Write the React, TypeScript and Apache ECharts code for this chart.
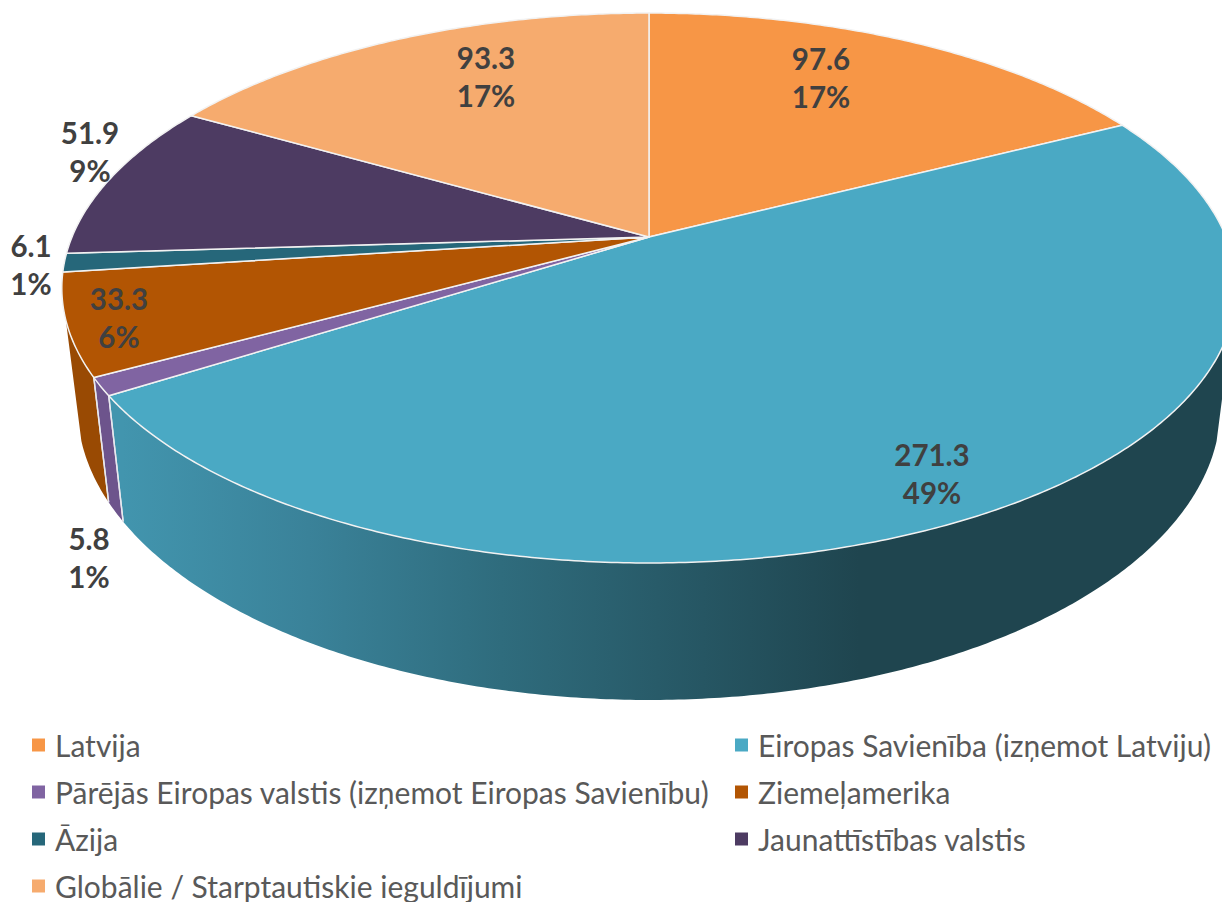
import React, { useEffect, useRef } from "react";
import * as echarts from "echarts";

const categories = [
  "Latvija",
  "Eiropas Savienība (izņemot Latviju)",
  "Pārējās Eiropas valstis (izņemot Eiropas Savienību)",
  "Ziemeļamerika",
  "Āzija",
  "Jaunattīstības valstis",
  "Globālie / Starptautiskie ieguldījumi",
];
const values = [97.6, 271.3, 5.8, 33.3, 6.1, 51.9, 93.3];
const valueLabels = ["97.6", "271.3", "5.8", "33.3", "6.1", "51.9", "93.3"];
const percentLabels = ["17%", "49%", "1%", "6%", "1%", "9%", "17%"];

const topColors = ["#F79646", "#4AA9C4", "#8064A2", "#B25503", "#26677A", "#4D3B62", "#F6AB6E"];
const wallColors = ["#9C5A20", "#1F454F", "#6D548C", "#994A03", "#1C4D5B", "#3A2C4A", "#A66E3E"];
const labelAnchors = [
  [821, 58],
  [932, 454],
  [89, 538],
  [119, 298],
  [31, 245],
  [90, 132],
  [486, 57],
];

// Perspective model of the pie: top and bottom discs
const P = 0.1855;
const CX = 649;
const TOP = { R: 577, K: 265.5, cy: 237 };
const BOT = { R: 561.6, K: 283, cy: 352.5 };
const WALL_FROM = 107.2;
const WALL_TO = 252.8;
const LINE_GAP = 38.5;

const total = values.reduce((a, b) => a + b, 0);
const starts: number[] = [];
values.reduce((acc, v, i) => {
  starts[i] = (acc / total) * 360;
  return acc + v;
}, 0);

function project(deg: number, d: { R: number; K: number; cy: number }) {
  const t = (deg * Math.PI) / 180;
  const u = Math.sin(t);
  const v = Math.cos(t);
  const w = 1 + P * v;
  return [CX + (d.R * u) / w, d.cy - (d.K * v) / w];
}

function arc(a: number, b: number, d: { R: number; K: number; cy: number }) {
  const n = Math.max(2, Math.ceil(Math.abs(b - a) * 2));
  const pts: number[][] = [];
  for (let i = 0; i <= n; i++) pts.push(project(a + ((b - a) * i) / n, d));
  return pts;
}

function wallFill(i: number) {
  if (i !== 1) return wallColors[i];
  return new echarts.graphic.LinearGradient(
    122,
    0,
    1222,
    0,
    [
      { offset: 0, color: "#4295AE" },
      { offset: 0.17, color: "#3A8299" },
      { offset: 0.345, color: "#2F6C7D" },
      { offset: 0.67, color: "#1F454F" },
      { offset: 1, color: "#1F454F" },
    ],
    true
  );
}

function makeRender(i: number) {
  return () => {
    const a = starts[i];
    const b = a + (values[i] / total) * 360;
    const children: any[] = [];
    const wa = Math.max(a, WALL_FROM);
    const wb = Math.min(b, WALL_TO);
    if (wb > wa) {
      children.push({
        type: "polygon",
        z2: 1,
        shape: { points: [...arc(wa, wb, TOP), ...arc(wb, wa, BOT)] },
        style: { fill: wallFill(i) },
      });
      if (a >= WALL_FROM) {
        children.push({
          type: "polyline",
          z2: 2,
          shape: { points: [project(a, TOP), project(a, BOT)] },
          style: { stroke: "#E8E8EE", lineWidth: 1.4, fill: "none" },
        });
      }
      if (b <= WALL_TO) {
        children.push({
          type: "polyline",
          z2: 2,
          shape: { points: [project(b, TOP), project(b, BOT)] },
          style: { stroke: "#E8E8EE", lineWidth: 1.4, fill: "none" },
        });
      }
    }
    children.push({
      type: "polygon",
      z2: 3,
      shape: { points: [[CX, TOP.cy], ...arc(a, b, TOP)] },
      style: { fill: topColors[i], stroke: "#F2F2F2", lineWidth: 1.5, lineJoin: "round" },
    });
    const [lx, ly] = labelAnchors[i];
    [valueLabels[i], percentLabels[i]].forEach((text, k) => {
      children.push({
        type: "text",
        z2: 4,
        x: lx,
        y: ly + k * LINE_GAP,
        style: {
          text,
          fill: "#404040",
          font: 'bold 29.5px Lato, "Open Sans", sans-serif',
          align: "center",
          verticalAlign: "middle",
        },
      });
    });
    return { type: "group", children };
  };
}

const legendBase = {
  orient: "vertical",
  icon: "rect",
  itemWidth: 13,
  itemHeight: 13,
  itemGap: 15,
  padding: 0,
  height: 300,
  selectedMode: false,
  textStyle: {
    color: "#595959",
    fontFamily: 'Lato, "Open Sans", sans-serif',
    fontSize: 30,
    lineHeight: 32,
    padding: [0, 0, 0, 5],
  },
};

export default function App() {
  const ref = useRef<HTMLDivElement>(null);
  useEffect(() => {
    const chart = echarts.init(ref.current!, null, { renderer: "svg" });
    chart.setOption({
      animation: false,
      backgroundColor: "#FFFFFF",
      legend: [
        { ...legendBase, left: 32, top: 729, data: [categories[0], categories[2], categories[4], categories[6]] },
        { ...legendBase, left: 735, top: 729, data: [categories[1], categories[3], categories[5]] },
      ],
      series: categories.map((name, i) => ({
        type: "custom",
        name,
        coordinateSystem: "none",
        silent: true,
        clip: false,
        itemStyle: { color: topColors[i] },
        data: [values[i]],
        renderItem: makeRender(i),
      })),
    });
    return () => chart.dispose();
  }, []);
  return (
    <div
      ref={ref}
      style={{ position: "absolute", left: 0, top: 0, width: 1222, height: 902, overflow: "hidden" }}
    />
  );
}
